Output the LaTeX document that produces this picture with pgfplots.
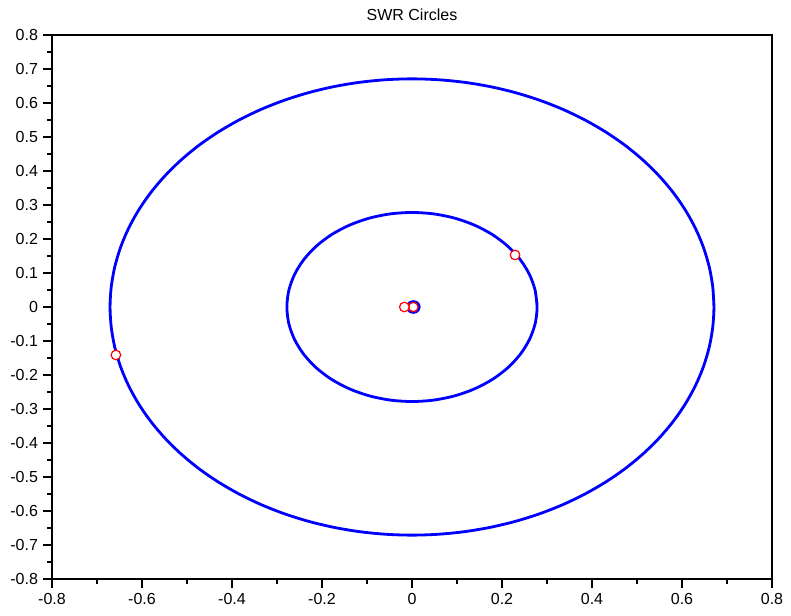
\documentclass[border=0pt]{standalone}
\usepackage{fontspec}
\setmainfont{Liberation Sans}
\usepackage{pgfplots}
\pgfplotsset{compat=1.18}
\begin{document}
\begin{tikzpicture}
\useasboundingbox (-39pt,-27pt) rectangle (554.25pt,434.25pt);
\begin{axis}[
  at={(0,0)}, anchor=south west,
  scale only axis, width=540pt, height=408pt,
  xmin=-0.8, xmax=0.8, ymin=-0.8, ymax=0.8,
  xtick={-0.8,-0.6,-0.4,-0.2,0,0.2,0.4,0.6,0.8},
  ytick={-0.8,-0.7,-0.6,-0.5,-0.4,-0.3,-0.2,-0.1,0,0.1,0.2,0.3,0.4,0.5,0.6,0.7,0.8},
  minor x tick num=1, minor y tick num=1,
  tick align=outside, tick pos=left,
  major tick length=7pt, minor tick length=3.5pt,
  tick style={black, line width=0.8pt},
  axis line style={line width=0.9pt},
  ticklabel style={font=\fontsize{12}{14}\selectfont},
  /pgf/number format/assume math mode=true,
  title={SWR Circles},
  title style={font=\fontsize{12}{14}\selectfont, at={(0.5,1)}, anchor=base, yshift=5pt},
]
\addplot[blue, line width=2.1pt, smooth, tension=0.5] coordinates {
(0.671,0) (0.6684,0.0585) (0.6608,0.1165) (0.6481,0.1737) (0.6305,0.2295) (0.6081,0.2836) (0.5811,0.3355) (0.5496,0.3849) (0.5140,0.4313) (0.4745,0.4745)
(0.4313,0.5140) (0.3849,0.5496) (0.3355,0.5811) (0.2836,0.6081) (0.2295,0.6305) (0.1737,0.6481) (0.1165,0.6608) (0.0585,0.6684) (0,0.671)
(-0.0585,0.6684) (-0.1165,0.6608) (-0.1737,0.6481) (-0.2295,0.6305) (-0.2836,0.6081) (-0.3355,0.5811) (-0.3849,0.5496) (-0.4313,0.5140) (-0.4745,0.4745)
(-0.5140,0.4313) (-0.5496,0.3849) (-0.5811,0.3355) (-0.6081,0.2836) (-0.6305,0.2295) (-0.6481,0.1737) (-0.6608,0.1165) (-0.6684,0.0585) (-0.671,0)
(-0.6684,-0.0585) (-0.6608,-0.1165) (-0.6481,-0.1737) (-0.6305,-0.2295) (-0.6081,-0.2836) (-0.5811,-0.3355) (-0.5496,-0.3849) (-0.5140,-0.4313) (-0.4745,-0.4745)
(-0.4313,-0.5140) (-0.3849,-0.5496) (-0.3355,-0.5811) (-0.2836,-0.6081) (-0.2295,-0.6305) (-0.1737,-0.6481) (-0.1165,-0.6608) (-0.0585,-0.6684) (0,-0.671)
(0.0585,-0.6684) (0.1165,-0.6608) (0.1737,-0.6481) (0.2295,-0.6305) (0.2836,-0.6081) (0.3355,-0.5811) (0.3849,-0.5496) (0.4313,-0.5140) (0.4745,-0.4745)
(0.5140,-0.4313) (0.5496,-0.3849) (0.5811,-0.3355) (0.6081,-0.2836) (0.6305,-0.2295) (0.6481,-0.1737) (0.6608,-0.1165) (0.6684,-0.0585) (0.671,0) (0.6684,0.0585)
};
\addplot[blue, line width=2.1pt, smooth] coordinates {
(0.278,0) (0.2738,0.0483) (0.2612,0.0951) (0.2407,0.139) (0.2129,0.1787) (0.1787,0.2129) (0.139,0.2407) (0.0951,0.2612) (0.0483,0.2738) (0,0.278)
(-0.0483,0.2738) (-0.0951,0.2612) (-0.139,0.2407) (-0.1787,0.2129) (-0.2129,0.1787) (-0.2407,0.139) (-0.2612,0.0951) (-0.2738,0.0483) (-0.278,0)
(-0.2738,-0.0483) (-0.2612,-0.0951) (-0.2407,-0.139) (-0.2129,-0.1787) (-0.1787,-0.2129) (-0.139,-0.2407) (-0.0951,-0.2612) (-0.0483,-0.2738) (0,-0.278)
(0.0483,-0.2738) (0.0951,-0.2612) (0.139,-0.2407) (0.1787,-0.2129) (0.2129,-0.1787) (0.2407,-0.139) (0.2612,-0.0951) (0.2738,-0.0483) (0.278,0) (0.2738,0.0483)
};
\addplot[only marks, mark=o, mark size=3.6pt, red, line width=0.9pt] coordinates {(0.003,0)};
\addplot[blue, line width=2.1pt, smooth] coordinates {
(0.016,0) (0.0143,0.008) (0.0095,0.0139) (0.003,0.016) (-0.0035,0.0139) (-0.0083,0.008) (-0.010,0)
(-0.0083,-0.008) (-0.0035,-0.0139) (0.003,-0.016) (0.0095,-0.0139) (0.0143,-0.008) (0.016,0) (0.0143,0.008)
};
\addplot[only marks, mark=*, mark size=3.6pt, draw=red, fill=white, line width=0.9pt] coordinates {
(-0.658,-0.141) (0.229,0.153) (-0.017,0)
};
\end{axis}
\end{tikzpicture}
\end{document}
